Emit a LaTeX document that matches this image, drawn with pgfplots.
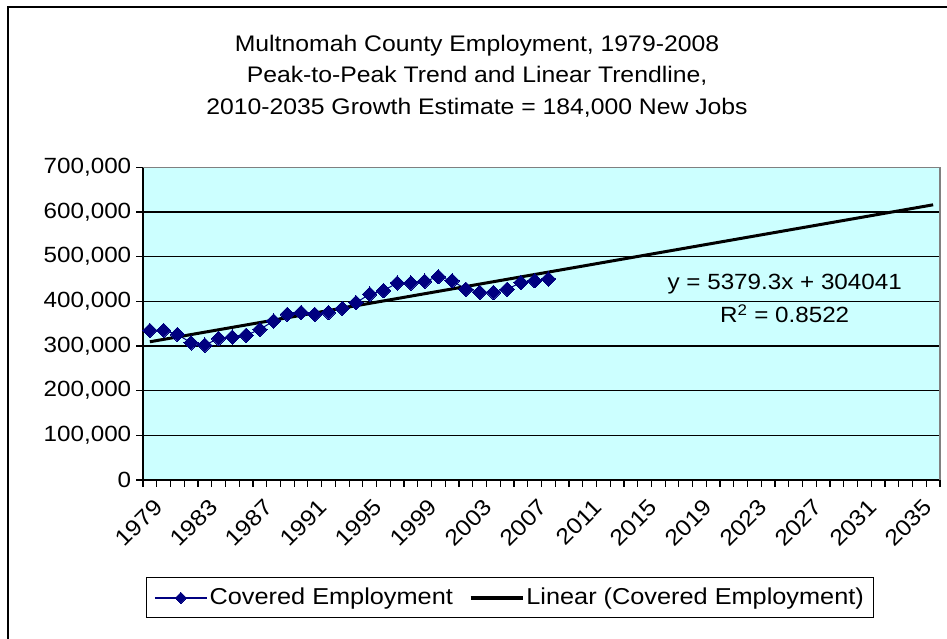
\documentclass[border=0pt]{standalone}
\usepackage{fontspec}
\setmainfont{Liberation Sans}[FakeStretch=1.1]
\usepackage{pgfplots}
\pgfplotsset{compat=1.18}
\definecolor{plotbg}{RGB}{204,255,255}
\definecolor{navyser}{RGB}{0,0,128}

\pgfplotstableread{
year emp
1979 335000
1980 335000
1981 326000
1982 307000
1983 302000
1984 317000
1985 320000
1986 324000
1987 337000
1988 356000
1989 371000
1990 375000
1991 371000
1992 375000
1993 384000
1994 397000
1995 416000
1996 424000
1997 441000
1998 441000
1999 445000
2000 455000
2001 446000
2002 427000
2003 420000
2004 420000
2005 427000
2006 442000
2007 446000
2008 450000
}\emptable

\begin{document}
\fontsize{22pt}{31pt}\selectfont
\begin{tikzpicture}
\useasboundingbox (0pt,0pt) rectangle (947pt,639pt);
\draw[line width=2.2pt] (8pt,-5pt) -- (8pt,632pt) -- (960pt,632pt);
\node[align=center, font=\fontsize{22.5pt}{31.5pt}\selectfont] at (477pt,563pt)
  {Multnomah County Employment, 1979-2008\\Peak-to-Peak Trend and Linear Trendline,\\2010-2035 Growth Estimate = 184,000 New Jobs};
\begin{axis}[
    at={(143pt,159pt)}, anchor=south west,
    scale only axis, width=797pt, height=312.7pt,
    xmin=1978.5, xmax=2036.5, ymin=0, ymax=700000,
    axis x line*=bottom, axis y line*=left,
    axis line style={line width=1.5pt, -},
    axis background/.style={fill=plotbg},
    tick align=outside,
    major tick style={draw=none},
    minor tick length=7pt,
    minor tick style={black, line width=1.2pt},
    xtick={1979,1983,...,2035},
    xticklabels={1979,1983,1987,1991,1995,1999,2003,2007,2011,2015,2019,2023,2027,2031,2035},
    xticklabel style={rotate=45, anchor=north east, yshift=-4pt, font=\fontsize{22.5pt}{27pt}\selectfont},
    minor xtick={1978.5,1979.5,...,2036.5},
    ytick={0,100000,...,700000},
    minor ytick={0,100000,...,700000},
    ymajorgrids, grid style={black, line width=1.2pt},
    scaled y ticks=false,
    yticklabel style={/pgf/number format/.cd, fixed, 1000 sep={,}, assume math mode=true},
    legend columns=2,
    legend style={at={(0.4605,-0.377)}, anchor=center, draw=black, line width=1.2pt,
        inner xsep=8pt, inner ysep=8pt,
        font=\fontsize{23pt}{27pt}\selectfont,
        /tikz/every even column/.append style={column sep=14pt}},
    legend image code/.code={\draw[mark repeat=2,mark phase=2,#1]
        plot coordinates {(0pt,0pt) (26pt,0pt) (52pt,0pt)};},
    after end axis/.code={
        \draw[gray, line width=1.5pt] (rel axis cs:0,1) -- (rel axis cs:1,1) -- (rel axis cs:1,0);
        \node at (axis cs:2025.2,438000) {y = 5379.3x + 304041};
        \node at (axis cs:2025.2,372000) {R\textsuperscript{2} = 0.8522};
    },
]
\addplot[navyser, line width=1pt, mark=square*, mark size=5.1pt,
    mark options={rotate=45, fill=navyser, draw=navyser, line width=0pt},
    legend image post style={line width=1.5pt, mark size=4pt}]
    table[x=year, y=emp] {\emptable};
\addlegendentry{Covered Employment}
\addplot[black, line width=3pt, legend image post style={line width=3.5pt}]
    coordinates {(1979,309420) (2036,616040)};
\addlegendentry{Linear (Covered Employment)}
\end{axis}
\end{tikzpicture}
\end{document}
